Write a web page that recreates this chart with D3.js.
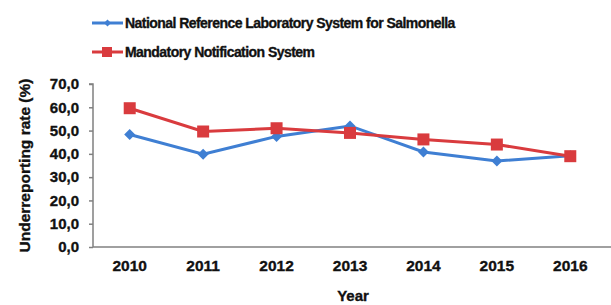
<!DOCTYPE html>
<html>
<head>
<meta charset="utf-8">
<script src="https://cdn.jsdelivr.net/npm/d3@7"></script>
<style>
  body { margin: 0; background: #fff; }
  svg { display: block; }
  text { font-family: "Liberation Sans", Arial, sans-serif; font-weight: bold; fill: #111; stroke: #111; stroke-width: 0.35; }
</style>
</head>
<body>
<svg id="chart" width="611" height="305"></svg>
<script>
// Data
const years = ['2010', '2011', '2012', '2013', '2014', '2015', '2016'];
const nrlValues = [48.3, 39.8, 47.5, 52.0, 40.8, 36.9, 39.2];
const mnsValues = [59.6, 49.6, 51.0, 49.0, 46.2, 44.0, 39.0];
const yTicks = [0, 10, 20, 30, 40, 50, 60, 70];
const seriesNames = ['National Reference Laboratory System for Salmonella', 'Mandatory Notification System'];

const blue = '#3f7fd3';
const red = '#d93b3e';

const svg = d3.select('#chart');
const margin = { left: 93, right: 0, top: 84, bottom: 58 };
const W = 611, H = 305;

const x = d3.scaleBand().domain(years).range([margin.left, W - 4]);
const y = d3.scaleLinear().domain([0, 70]).range([H - margin.bottom, margin.top]);

// Y axis
const yAxis = svg.append('g')
  .attr('transform', `translate(${margin.left},0)`)
  .call(d3.axisLeft(y).tickValues(yTicks).tickSize(4).tickPadding(10)
    .tickFormat(d => d3.format('.1f')(d).replace('.', ',')));
yAxis.selectAll('line, path').attr('stroke', '#808080').attr('stroke-width', 1.5);
yAxis.select('.domain').attr('d', `M-4,${y(70)}H0V${y(0)}`);
yAxis.selectAll('text').attr('font-size', 15).attr('fill', '#111');

// X axis
const xAxis = svg.append('g')
  .attr('transform', `translate(0,${y(0)})`)
  .call(d3.axisBottom(x).tickSize(0).tickPadding(13));
xAxis.select('.domain').attr('stroke', '#808080').attr('stroke-width', 1.5).attr('d', `M${margin.left},0H${W}`);
xAxis.selectAll('text').attr('font-size', 15.5).attr('fill', '#111');

// Axis titles
svg.append('text')
  .attr('transform', `translate(30,${(y(0) + y(70)) / 2}) rotate(-90)`)
  .attr('text-anchor', 'middle')
  .attr('font-size', 15.5)
  .text('Underreporting rate (%)');

svg.append('text')
  .attr('x', 353).attr('y', 301)
  .attr('text-anchor', 'middle')
  .attr('font-size', 15)
  .text('Year');

// Lines
const line = d3.line().x((d, i) => x(years[i]) + x.bandwidth() / 2).y(d => y(d));

svg.append('path').datum(nrlValues)
  .attr('fill', 'none').attr('stroke', blue).attr('stroke-width', 3).attr('d', line);
svg.append('path').datum(mnsValues)
  .attr('fill', 'none').attr('stroke', red).attr('stroke-width', 3).attr('d', line);

// Markers
svg.append('g').selectAll('path')
  .data(nrlValues).join('path')
  .attr('transform', (d, i) => `translate(${x(years[i]) + x.bandwidth() / 2},${y(d)})`)
  .attr('d', 'M0,-5.5L5.5,0L0,5.5L-5.5,0Z')
  .attr('fill', blue);

svg.append('g').selectAll('rect')
  .data(mnsValues).join('rect')
  .attr('x', (d, i) => x(years[i]) + x.bandwidth() / 2 - 6)
  .attr('y', d => y(d) - 6)
  .attr('width', 12).attr('height', 12)
  .attr('fill', red);

// Legend
const legend = svg.append('g');
const legendRows = [
  { name: seriesNames[0], color: blue, y: 23, marker: 'diamond' },
  { name: seriesNames[1], color: red, y: 52, marker: 'square' }
];
legendRows.forEach(r => {
  legend.append('line').attr('x1', 92).attr('x2', 123).attr('y1', r.y).attr('y2', r.y)
    .attr('stroke', r.color).attr('stroke-width', 3);
  if (r.marker === 'diamond') {
    legend.append('path').attr('transform', `translate(107.5,${r.y})`)
      .attr('d', 'M0,-3.5L3.5,0L0,3.5L-3.5,0Z').attr('fill', r.color);
  } else {
    legend.append('rect').attr('x', 102).attr('y', r.y - 5).attr('width', 10).attr('height', 10).attr('fill', r.color);
  }
  legend.append('text').attr('x', 125).attr('y', r.y + 5)
    .attr('font-size', 14).attr('letter-spacing', -0.55)
    .text(r.name);
});
</script>
</body>
</html>
